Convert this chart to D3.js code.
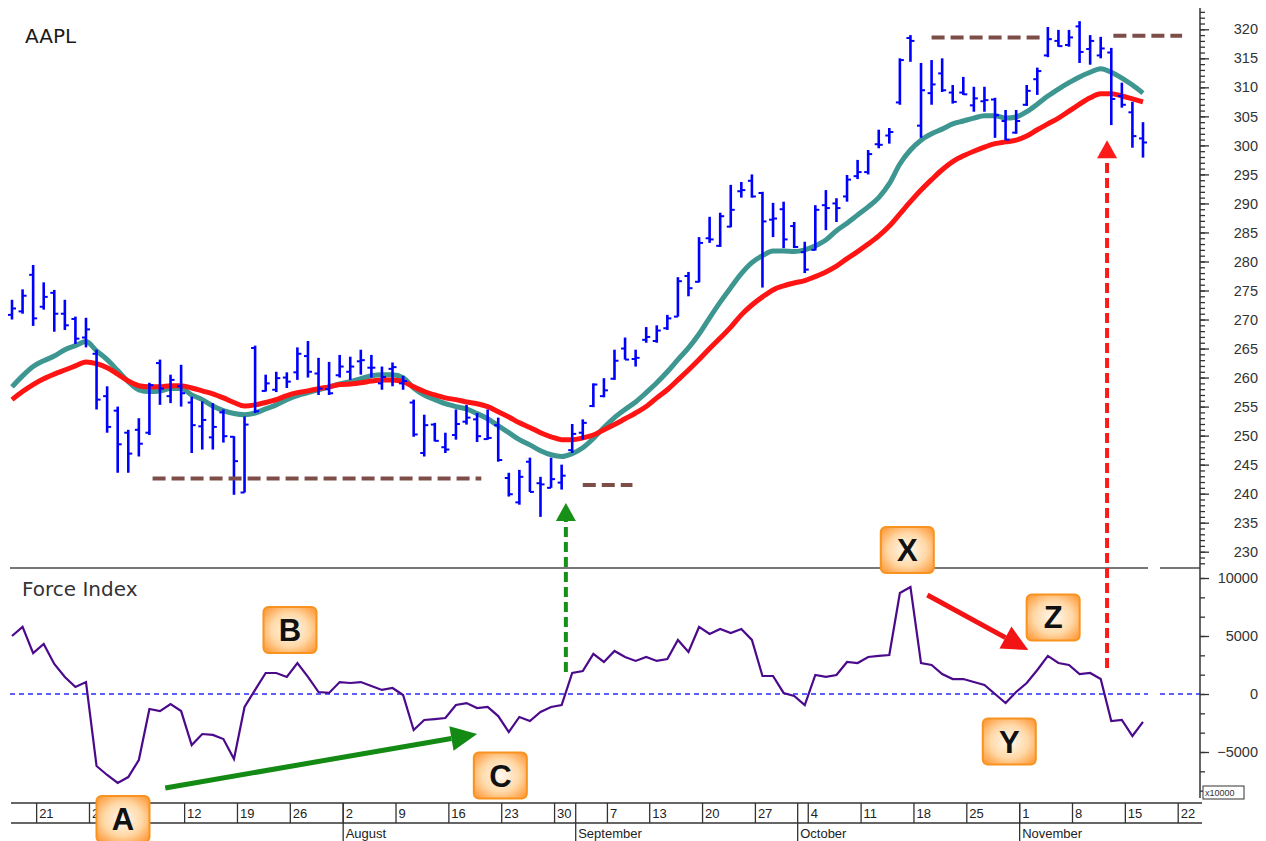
<!DOCTYPE html>
<html>
<head>
<meta charset="utf-8">
<script src="https://d3js.org/d3.v7.min.js"></script>
<style>
  body { margin: 0; background: #fff; }
  svg { display: block; }
</style>
</head>
<body>
<div id="chart"></div>
<script>
// trading days (2010), Jun 17 .. Nov 22
var dates = [
  "06-17","06-18","06-21","06-22","06-23","06-24","06-25","06-28","06-29","06-30",
  "07-01","07-02","07-06","07-07","07-08","07-09","07-12","07-13","07-14","07-15","07-16",
  "07-19","07-20","07-21","07-22","07-23","07-26","07-27","07-28","07-29","07-30",
  "08-02","08-03","08-04","08-05","08-06","08-09","08-10","08-11","08-12","08-13",
  "08-16","08-17","08-18","08-19","08-20","08-23","08-24","08-25","08-26","08-27","08-30","08-31",
  "09-01","09-02","09-03","09-07","09-08","09-09","09-10","09-13","09-14","09-15","09-16","09-17",
  "09-20","09-21","09-22","09-23","09-24","09-27","09-28","09-29","09-30",
  "10-01","10-04","10-05","10-06","10-07","10-08","10-11","10-12","10-13","10-14","10-15",
  "10-18","10-19","10-20","10-21","10-22","10-25","10-26","10-27","10-28","10-29",
  "11-01","11-02","11-03","11-04","11-05","11-08","11-09","11-10","11-11","11-12",
  "11-15","11-16","11-17","11-18","11-19","11-22"
];

// AAPL daily bars
var opens = [
  270.8, 271.4, 277.7, 272.2, 274.6, 271.0, 270.1, 266.9, 264.1, 256.8,
  254.3, 250.5, 251.0, 250.5, 262.5, 256.8, 258.5, 255.7, 251.6, 249.7,
  254.0, 249.8, 240.2, 265.1, 257.7, 257.9, 260.0, 260.9, 263.7, 260.7,
  258.0, 260.4, 261.0, 262.8, 261.7, 259.0, 261.5, 259.0, 255.7, 247.0,
  251.9, 248.0, 250.1, 252.4, 252.8, 249.4, 251.8, 242.7, 238.5, 245.5,
  241.8, 241.0, 241.9, 247.5, 250.5, 255.1, 256.8, 259.8, 265.0, 263.2,
  266.5, 266.3, 268.5, 270.5, 277.5, 276.5, 284.0, 282.7, 286.0, 292.1,
  293.9, 291.8, 287.2, 289.0, 286.1, 281.6, 282.0, 289.7, 290.0, 291.2,
  294.7, 295.4, 300.2, 301.7, 307.4, 318.5, 303.4, 309.0, 312.4, 309.1,
  309.1, 306.9, 307.6, 307.9, 304.2, 302.2, 307.0, 311.4, 315.5, 318.0,
  317.3, 320.5, 316.6, 315.5, 316.0, 308.5, 305.7, 301.2
];
var highs = [
  273.4, 275.2, 279.4, 276.4, 275.1, 273.4, 270.5, 270.3, 264.8, 258.5,
  255.0, 251.0, 253.0, 259.1, 263.1, 260.5, 262.2, 256.7, 255.9, 255.6,
  254.5, 249.9, 253.3, 265.5, 260.5, 261.0, 260.9, 265.2, 266.3, 263.4,
  262.7, 263.9, 263.6, 264.8, 263.9, 261.9, 262.6, 260.3, 256.2, 253.6,
  252.2, 250.5, 254.5, 255.3, 253.9, 254.5, 253.1, 243.6, 244.1, 246.2,
  242.9, 246.2, 245.0, 252.0, 252.8, 259.0, 259.9, 264.8, 266.9, 264.8,
  268.7, 269.0, 270.8, 277.3, 278.2, 284.2, 287.7, 288.4, 293.2, 293.7,
  295.0, 292.0, 290.1, 290.3, 286.8, 283.4, 289.7, 292.3, 290.9, 294.9,
  297.5, 299.2, 302.7, 303.0, 315.0, 319.0, 314.2, 314.7, 315.0, 310.4,
  311.8, 310.1, 310.1, 308.2, 306.1, 306.1, 310.4, 313.4, 320.4, 319.9,
  319.9, 321.4, 319.0, 318.7, 316.8, 310.8, 307.5, 304.0
];
var lows = [
  270.0, 271.0, 268.9, 271.7, 267.9, 268.2, 265.8, 265.2, 254.5, 250.5,
  243.6, 243.6, 246.4, 250.1, 255.3, 255.6, 255.0, 247.0, 247.6, 247.6,
  248.8, 239.8, 240.2, 253.9, 257.6, 257.5, 258.2, 259.6, 260.0, 257.0,
  257.0, 260.0, 259.6, 260.5, 260.0, 257.9, 258.5, 257.9, 249.8, 246.4,
  249.0, 247.0, 249.3, 251.9, 248.9, 249.3, 245.5, 239.5, 238.1, 240.3,
  236.0, 241.0, 240.7, 247.0, 249.3, 254.9, 256.6, 259.6, 263.1, 261.9,
  266.0, 266.0, 268.2, 270.5, 274.0, 276.4, 283.2, 282.5, 285.9, 291.0,
  291.0, 275.5, 284.2, 282.3, 282.3, 278.0, 281.9, 285.4, 286.8, 290.3,
  294.2, 295.0, 299.5, 300.3, 307.0, 314.4, 301.3, 307.0, 309.2, 307.2,
  308.7, 305.8, 305.8, 301.3, 300.9, 302.0, 306.8, 308.7, 315.2, 317.0,
  317.0, 314.2, 313.9, 315.0, 303.5, 306.5, 299.6, 297.9
];
var closes = [
  271.9, 274.1, 270.2, 273.9, 271.0, 269.0, 266.7, 268.3, 256.2, 251.5,
  248.5, 246.9, 248.6, 258.7, 258.1, 259.6, 257.3, 251.8, 252.7, 251.5,
  249.9, 245.6, 251.9, 254.2, 259.0, 259.9, 259.3, 264.1, 261.0, 258.1,
  257.3, 261.9, 261.9, 263.0, 261.7, 260.1, 261.8, 259.4, 250.2, 251.8,
  249.1, 247.6, 252.0, 253.1, 249.9, 249.6, 245.8, 239.9, 242.9, 240.3,
  241.6, 242.5, 243.1, 250.3, 252.2, 258.8, 257.8, 262.9, 263.1, 263.4,
  267.0, 268.1, 270.2, 276.6, 275.4, 283.2, 283.8, 287.8, 288.9, 292.3,
  291.2, 286.9, 287.4, 283.8, 282.5, 278.6, 288.9, 289.2, 289.2, 294.1,
  295.4, 298.5, 300.1, 302.3, 314.7, 318.0, 309.5, 310.5, 309.5, 307.5,
  308.8, 308.1, 307.8, 305.2, 301.0, 304.2, 309.4, 312.8, 318.3, 317.1,
  318.6, 316.1, 318.0, 316.7, 308.0, 307.0, 301.6, 300.5
];

// moving averages
var maFast = [
  258.4, 260.3, 261.9, 262.9, 263.7, 264.8, 265.5, 266.2, 264.6, 263.1,
  261.2, 259.3, 257.9, 257.6, 257.7, 258.1, 258.1, 257.0, 256.2, 255.1,
  254.3, 253.8, 253.6, 253.9, 254.6, 255.3, 256.2, 256.9, 257.4, 257.9,
  258.4, 258.9, 259.3, 259.8, 260.3, 260.5, 260.5, 260.0, 258.2, 257.0,
  256.2, 255.5, 255.0, 254.6, 253.8, 252.9, 251.7, 250.5, 249.3, 248.4,
  247.4, 246.7, 246.4, 246.9, 247.9, 249.5, 251.4, 253.1, 254.5, 255.8,
  257.4, 259.1, 261.0, 263.1, 265.1, 267.5, 270.3, 273.0, 275.5, 277.9,
  279.8, 281.0, 281.8, 281.8, 281.7, 282.0, 282.7, 283.7, 285.3, 286.6,
  288.0, 289.4, 291.0, 293.4, 296.8, 299.2, 300.9, 302.0, 302.8, 303.7,
  304.2, 304.7, 305.1, 305.1, 304.7, 304.9, 305.8, 307.1, 308.5, 309.7,
  310.8, 311.8, 312.6, 313.2, 312.6, 311.6, 310.4, 309.0
];
var maSlow = [
  256.2, 257.6, 258.8, 259.8, 260.6, 261.3, 262.0, 262.7, 262.4, 261.7,
  260.6, 259.4, 258.6, 258.4, 258.4, 258.6, 258.6, 258.2, 257.7, 257.2,
  256.5, 255.7, 255.1, 255.3, 255.7, 256.2, 256.9, 257.4, 257.7, 258.1,
  258.4, 258.8, 258.9, 259.1, 259.4, 259.6, 259.6, 259.3, 258.4, 257.6,
  257.0, 256.5, 256.2, 255.8, 255.5, 255.0, 254.1, 253.2, 252.2, 251.4,
  250.5, 249.8, 249.3, 249.3, 249.6, 250.1, 251.0, 251.9, 252.9, 253.9,
  255.0, 256.5, 257.9, 259.6, 261.3, 263.1, 265.0, 266.8, 268.7, 270.8,
  272.5, 273.9, 275.1, 275.8, 276.3, 276.7, 277.4, 278.2, 279.2, 280.5,
  281.7, 283.0, 284.4, 286.1, 288.2, 290.3, 292.3, 294.1, 295.8, 297.2,
  298.2, 299.0, 299.7, 300.3, 300.6, 300.9, 301.6, 302.7, 303.7, 304.7,
  305.9, 307.1, 308.2, 308.9, 308.9, 308.5, 308.0, 307.5
];

// Force Index
var forceIndex = [
  5000, 5780, 3530, 4310, 2590, 1470, 600, 1030, -6210, -6980,
  -7670, -7160, -5690, -1290, -1470, -860, -1470, -4400, -3450, -3530,
  -3880, -5600, -1120, 350, 1810, 1810, 1470, 2670, 1470, 170,
  90, 1030, 950, 1030, 690, 350, 520, -90, -3100, -2240,
  -2160, -2070, -950, -780, -1210, -1120, -1900, -3280, -1980, -2330,
  -1550, -1120, -950, 1810, 1980, 3450, 2760, 3710, 3190, 2850,
  3190, 2850, 3020, 4660, 3620, 5780, 5170, 5600, 5260, 5600,
  4660, 1550, 1550, 90, -170, -950, 1640, 1470, 1640, 2760,
  2670, 3190, 3280, 3360, 8710, 9220, 2670, 2500, 1720, 1290,
  1290, 1030, 780, 0, -780, 170, 950, 2070, 3280, 2670,
  2500, 1720, 1810, 1290, -2330, -2240, -3620, -2410
];

// axis labels (the July ones sit under the "A" box and are not shown)
var weekTicks = ["06-21","06-28","07-12","07-19","07-26","08-02","08-09","08-16","08-23",
  "08-30","09-07","09-13","09-20","09-27","10-04","10-11","10-18","10-25","11-01","11-08","11-15","11-22"];
var weekLabels = ["21","28","12","19","26","2","9","16","23","30","7","13","20","27","4","11","18","25","1","8","15","22"];
var monthTicks = ["08-02","09-01","10-01","11-01"];
var monthLabels = ["August","September","October","November"];
var priceTicks = [230,235,240,245,250,255,260,265,270,275,280,285,290,295,300,305,310,315,320];
var forceTicks = [-5000, 0, 5000, 10000];

// annotations (day index, value)
var levels = [
  { from: 13.3, to: 44.4, price: 242.6 },
  { from: 54.0, to: 58.7, price: 241.5 },
  { from: 87.0, to: 97.4, price: 318.6 },
  { from: 104.2, to: 110.7, price: 318.9 }
];
var labels = [
  { text: "A", day: 10.5, fi: -10780 },
  { text: "B", day: 26.3, fi: 5520 },
  { text: "C", day: 46.2, fi: -7030 },
  { text: "X", day: 84.7, fi: 12410 },
  { text: "Y", day: 94.35, fi: -4100 },
  { text: "Z", day: 98.5, fi: 6600 }
];

var W = 1266, H = 841;
var svg = d3.select("#chart").append("svg").attr("width", W).attr("height", H);

var defs = svg.append("defs");
var grad = defs.append("radialGradient").attr("id", "boxGrad").attr("cx", "50%").attr("cy", "50%").attr("r", "65%");
grad.append("stop").attr("offset", "0%").attr("stop-color", "#fff8f0");
grad.append("stop").attr("offset", "55%").attr("stop-color", "#ffd9a8");
grad.append("stop").attr("offset", "100%").attr("stop-color", "#ff9a3a");

// scales
var x = d3.scaleLinear().domain([0, dates.length - 1]).range([12, 1174.7]);
var y = d3.scaleLinear().domain([230, 320]).range([551.7, 29.3]);
var yf = d3.scaleLinear().domain([-5000, 10000]).range([752, 578]);
var axisX = 1200;

// panel separator and zero line
[[10, 1148], [1160, axisX]].forEach(function (s) {
    svg.append("line").attr("x1", s[0]).attr("x2", s[1]).attr("y1", 568).attr("y2", 568)
        .attr("stroke", "#4a4a4a").attr("stroke-width", 1.6);
    svg.append("line").attr("x1", s[0]).attr("x2", s[1]).attr("y1", yf(0)).attr("y2", yf(0))
        .attr("stroke", "#2a2aff").attr("stroke-width", 1.3).attr("stroke-dasharray", "5,4");
});

// Add the moving averages
var maLine = d3.line()
    .x(function (d, i) { return x(i); })
    .y(function (d) { return y(d); })
    .curve(d3.curveMonotoneX);
svg.append("path").datum(maFast).attr("d", maLine)
    .attr("fill", "none").attr("stroke", "#3e9690").attr("stroke-width", 5);
svg.append("path").datum(maSlow).attr("d", maLine)
    .attr("fill", "none").attr("stroke", "#ff1414").attr("stroke-width", 5);

// Add the price bars
var bars = svg.append("g").attr("stroke", "#0000ff");
bars.selectAll(".hl").data(highs).enter().append("line")
    .attr("x1", function (d, i) { return x(i); })
    .attr("x2", function (d, i) { return x(i); })
    .attr("y1", function (d) { return y(d); })
    .attr("y2", function (d, i) { return y(lows[i]); })
    .attr("stroke-width", 2.6);
bars.selectAll(".op").data(opens).enter().append("line")
    .attr("x1", function (d, i) { return x(i) - 4; })
    .attr("x2", function (d, i) { return x(i); })
    .attr("y1", function (d) { return y(d); })
    .attr("y2", function (d) { return y(d); })
    .attr("stroke-width", 2);
bars.selectAll(".cl").data(closes).enter().append("line")
    .attr("x1", function (d, i) { return x(i); })
    .attr("x2", function (d, i) { return x(i) + 4; })
    .attr("y1", function (d) { return y(d); })
    .attr("y2", function (d) { return y(d); })
    .attr("stroke-width", 2);

// support / resistance levels
svg.append("g").selectAll("line").data(levels).enter().append("line")
    .attr("x1", function (d) { return x(d.from); })
    .attr("x2", function (d) { return x(d.to); })
    .attr("y1", function (d) { return y(d.price); })
    .attr("y2", function (d) { return y(d.price); })
    .attr("stroke", "#7d4e48").attr("stroke-width", 4).attr("stroke-dasharray", "13,6");

// Add the force index line
svg.append("path").datum(forceIndex)
    .attr("d", d3.line()
        .x(function (d, i) { return x(i); })
        .y(function (d) { return yf(d); }))
    .attr("fill", "none").attr("stroke", "#4b0a8c").attr("stroke-width", 2.2);

// arrows
function arrow(x1, y1, x2, y2, color, width, dash, len, wid) {
    var dx = x2 - x1, dy = y2 - y1, L = Math.sqrt(dx * dx + dy * dy);
    var ux = dx / L, uy = dy / L;
    var bx = x2 - ux * len, by = y2 - uy * len;
    svg.append("line").attr("x1", x1).attr("y1", y1).attr("x2", bx).attr("y2", by)
        .attr("stroke", color).attr("stroke-width", width)
        .attr("stroke-dasharray", dash);
    svg.append("path")
        .attr("d", "M" + x2 + "," + y2 + "L" + (bx - uy * wid / 2) + "," + (by + ux * wid / 2) +
            "L" + (bx + uy * wid / 2) + "," + (by - ux * wid / 2) + "Z")
        .attr("fill", color);
}
arrow(x(52.4), yf(1900), x(52.4), y(238.4), "#169016", 4, "10,5", 18, 20);
arrow(x(103.6), yf(2240), x(103.6), y(300.9), "#ff1a1a", 4, "10,5", 18, 20);
arrow(x(14.5), yf(-8100), x(44.0), yf(-3450), "#138a13", 5, null, 26, 25);
arrow(x(86.6), yf(8530), x(96.15), yf(3790), "#f21414", 5, null, 26, 25);

// Add right axes
var gy = svg.append("g").attr("transform", "translate(" + axisX + ",0)");
gy.append("line").attr("x1", 0).attr("x2", 0).attr("y1", 8).attr("y2", 798)
    .attr("stroke", "#333").attr("stroke-width", 1.5);
gy.append("g").call(d3.axisRight(y).tickValues(d3.range(228, 324)).tickSize(5).tickFormat(""));
gy.append("g").call(d3.axisRight(y).tickValues(priceTicks).tickSize(9));
gy.append("g").call(d3.axisRight(yf).tickValues(d3.range(-8333.33, 10001, 5000 / 3)).tickSize(5).tickFormat(""));
gy.append("g").call(d3.axisRight(yf).tickValues(forceTicks).tickSize(9).tickFormat(d3.format("d")));
gy.selectAll(".domain").remove();
gy.selectAll(".tick line").attr("stroke", "#333").attr("stroke-width", 1.3);
gy.selectAll(".tick text").attr("x", 58).attr("text-anchor", "end")
    .attr("font-family", "Liberation Sans, Arial, sans-serif").attr("font-size", 14.5).attr("fill", "#333");

svg.append("rect").attr("x", 1203).attr("y", 786).attr("width", 41).attr("height", 13)
    .attr("fill", "#fff").attr("stroke", "#333").attr("stroke-width", 1);
svg.append("text").attr("x", 1205).attr("y", 796).text("x10000")
    .attr("font-family", "Liberation Sans, Arial, sans-serif").attr("font-size", 9).attr("fill", "#333");

// Add X axis --> trading days, weeks and months
var xa = svg.append("g").attr("stroke", "#333").attr("stroke-width", 1.3);
xa.append("line").attr("x1", 11).attr("x2", 1202).attr("y1", 803).attr("y2", 803);
xa.append("line").attr("x1", 11).attr("x2", 1202).attr("y1", 823).attr("y2", 823);
xa.selectAll(".wk").data(weekTicks).enter().append("line")
    .attr("x1", function (d) { return x(dates.indexOf(d)) + 3.5; })
    .attr("x2", function (d) { return x(dates.indexOf(d)) + 3.5; })
    .attr("y1", 803).attr("y2", 823);
xa.selectAll(".mo").data(monthTicks).enter().append("line")
    .attr("x1", function (d) { return x(dates.indexOf(d)) + 3.5; })
    .attr("x2", function (d) { return x(dates.indexOf(d)) + 3.5; })
    .attr("y1", 803).attr("y2", 841);
svg.append("g").selectAll("text").data(weekTicks).enter().append("text")
    .attr("x", function (d) { return x(dates.indexOf(d)) + 6; })
    .attr("y", 818)
    .text(function (d, i) { return weekLabels[i]; })
    .attr("font-family", "Liberation Sans, Arial, sans-serif").attr("font-size", 13).attr("fill", "#222");
svg.append("g").selectAll("text").data(monthTicks).enter().append("text")
    .attr("x", function (d) { return x(dates.indexOf(d)) + 6; })
    .attr("y", 838)
    .text(function (d, i) { return monthLabels[i]; })
    .attr("font-family", "Liberation Sans, Arial, sans-serif").attr("font-size", 13).attr("fill", "#222");

// panel titles
svg.append("text").attr("x", 25).attr("y", 43).text("AAPL")
    .attr("font-family", "DejaVu Sans, sans-serif").attr("font-size", 20).attr("fill", "#1a1a1a");
svg.append("text").attr("x", 22).attr("y", 596).text("Force Index")
    .attr("font-family", "DejaVu Sans, sans-serif").attr("font-size", 20).attr("fill", "#333");

// letter boxes
var boxes = svg.append("g").selectAll("g").data(labels).enter().append("g")
    .attr("transform", function (d) { return "translate(" + x(d.day) + "," + yf(d.fi) + ")"; });
boxes.append("rect").attr("x", -26.5).attr("y", -23).attr("width", 53).attr("height", 46).attr("rx", 5)
    .attr("fill", "url(#boxGrad)").attr("stroke", "#f7931e").attr("stroke-width", 2);
boxes.append("text").attr("text-anchor", "middle").attr("y", 11)
    .text(function (d) { return d.text; })
    .attr("font-family", "Liberation Sans, Arial, sans-serif").attr("font-weight", "bold")
    .attr("font-size", 31).attr("fill", "#111");
</script>
</body>
</html>
